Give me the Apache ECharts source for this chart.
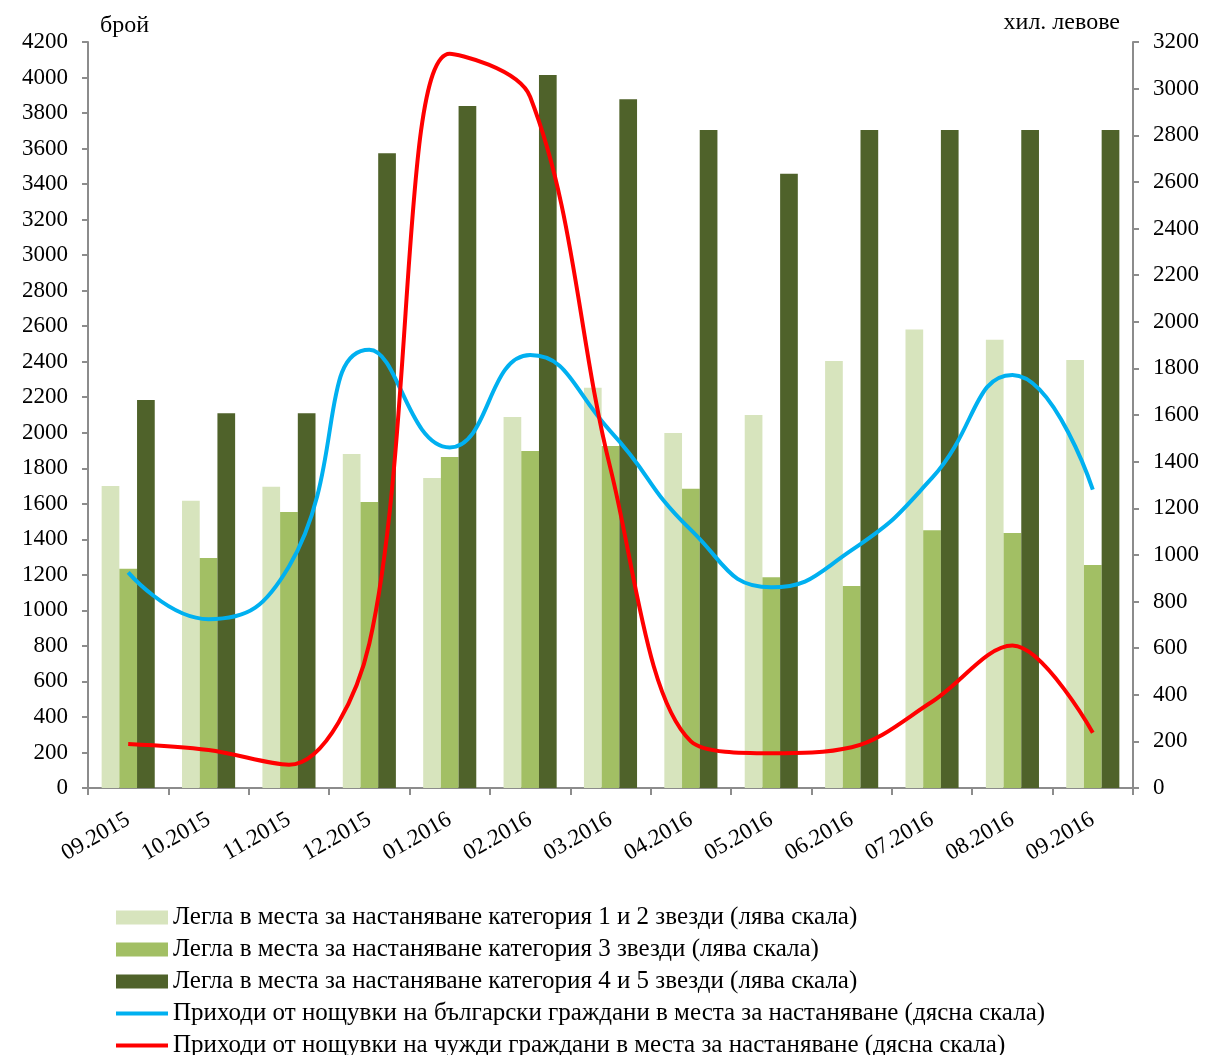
<!DOCTYPE html>
<html>
<head>
<meta charset="utf-8">
<script src="https://cdn.jsdelivr.net/npm/echarts@6/dist/echarts.min.js"></script>
<style>
html,body{margin:0;padding:0;background:#fff;}
#chart{width:1213px;height:1055px;}
</style>
</head>
<body>
<div id="chart"></div>
<script>
const categories = ['09.2015','10.2015','11.2015','12.2015','01.2016','02.2016','03.2016','04.2016','05.2016','06.2016','07.2016','08.2016','09.2016'];
const beds12 = [1700,1617,1696,1880,1745,2089,2254,1999,2100,2404,2582,2524,2410];
const beds3 = [1235,1295,1554,1610,1864,1897,1925,1685,1186,1137,1451,1436,1255];
const beds45 = [2184,2110,2110,3573,3840,4014,3877,3705,3458,3705,3705,3705,3705];
const revBg = [925,724,950,1880,1461,1857,1530,1107,861,1020,1330,1772,1280];
const revForeign = [189,163,100,620,3150,2965,1370,200,149,175,370,611,237];
const leftTicks = {min:0, max:4200, interval:200};
const rightTicks = {min:0, max:3200, interval:200};

const names = [
  'Легла в места за настаняване категория 1 и 2 звезди (лява скала)',
  'Легла в места за настаняване категория 3 звезди (лява скала)',
  'Легла в места за настаняване категория 4 и 5 звезди (лява скала)',
  'Приходи от нощувки на български граждани в места за настаняване (дясна скала)',
  'Приходи от нощувки на чужди граждани в места за настаняване (дясна скала)'
];
const FONT = '"Liberation Serif","Times New Roman",serif';
const axisCol = '#8c8c8c';
const lineIcon = 'path://M0,0 L52,0 L52,4 L0,4 Z';
const chart = echarts.init(document.getElementById('chart'));
chart.setOption({
  animation:false,
  textStyle:{fontFamily:FONT, color:'#000'},
  grid:{left:88, right:80, top:42, bottom:267},
  legend:{
    orient:'vertical', left:111, top:900, height:160, itemWidth:52, itemHeight:14, itemGap:7,
    textStyle:{fontFamily:FONT, fontSize:25, color:'#000'},
    data:[
      {name:names[0], icon:'rect'},
      {name:names[1], icon:'rect'},
      {name:names[2], icon:'rect'},
      {name:names[3], icon:lineIcon},
      {name:names[4], icon:lineIcon}
    ]
  },
  xAxis:{
    type:'category', data:categories, boundaryGap:true,
    axisLine:{lineStyle:{color:axisCol, width:2}},
    axisTick:{show:true, length:7, lineStyle:{color:axisCol, width:2}},
    axisLabel:{rotate:30, margin:30, fontFamily:FONT, fontSize:23, color:'#000', interval:0},
    splitLine:{show:false}
  },
  yAxis:[
    {type:'value', min:leftTicks.min, max:leftTicks.max, interval:leftTicks.interval, position:'left',
     name:'брой', nameLocation:'end', nameGap:4,
     nameTextStyle:{fontFamily:FONT, fontSize:24, color:'#000', align:'left', verticalAlign:'bottom', padding:[0,0,0,12]},
     axisLine:{show:true, lineStyle:{color:axisCol, width:2}},
     axisTick:{show:true, length:6, lineStyle:{color:axisCol, width:2}},
     axisLabel:{margin:20, fontFamily:FONT, fontSize:23, color:'#000', formatter:function(v){return String(v);}},
     splitLine:{show:false}},
    {type:'value', min:rightTicks.min, max:rightTicks.max, interval:rightTicks.interval, position:'right',
     name:'хил. левове', nameLocation:'end', nameGap:7,
     nameTextStyle:{fontFamily:FONT, fontSize:24, color:'#000', align:'right', verticalAlign:'bottom', padding:[0,13,0,0]},
     axisLine:{show:true, lineStyle:{color:axisCol, width:2}},
     axisTick:{show:true, length:6, lineStyle:{color:axisCol, width:2}},
     axisLabel:{margin:20, fontFamily:FONT, fontSize:23, color:'#000', formatter:function(v){return String(v);}},
     splitLine:{show:false}}
  ],
  series:[
    {name:names[0], type:'bar', yAxisIndex:0, data:beds12, barWidth:17.7, barGap:'0%', itemStyle:{color:'#D7E4BD'}},
    {name:names[1], type:'bar', yAxisIndex:0, data:beds3, barWidth:17.7, barGap:'0%', itemStyle:{color:'#A2BF64'}},
    {name:names[2], type:'bar', yAxisIndex:0, data:beds45, barWidth:17.7, barGap:'0%', itemStyle:{color:'#4F622A'}},
    {name:names[3], type:'line', yAxisIndex:1, data:revBg, smooth:0.5, symbol:'none', lineStyle:{color:'#00B0F0', width:4}, itemStyle:{color:'#00B0F0'}},
    {name:names[4], type:'line', yAxisIndex:1, data:revForeign, smooth:0.35, symbol:'none', lineStyle:{color:'#FF0000', width:4}, itemStyle:{color:'#FF0000'}}
  ]
});
</script>
</body>
</html>
